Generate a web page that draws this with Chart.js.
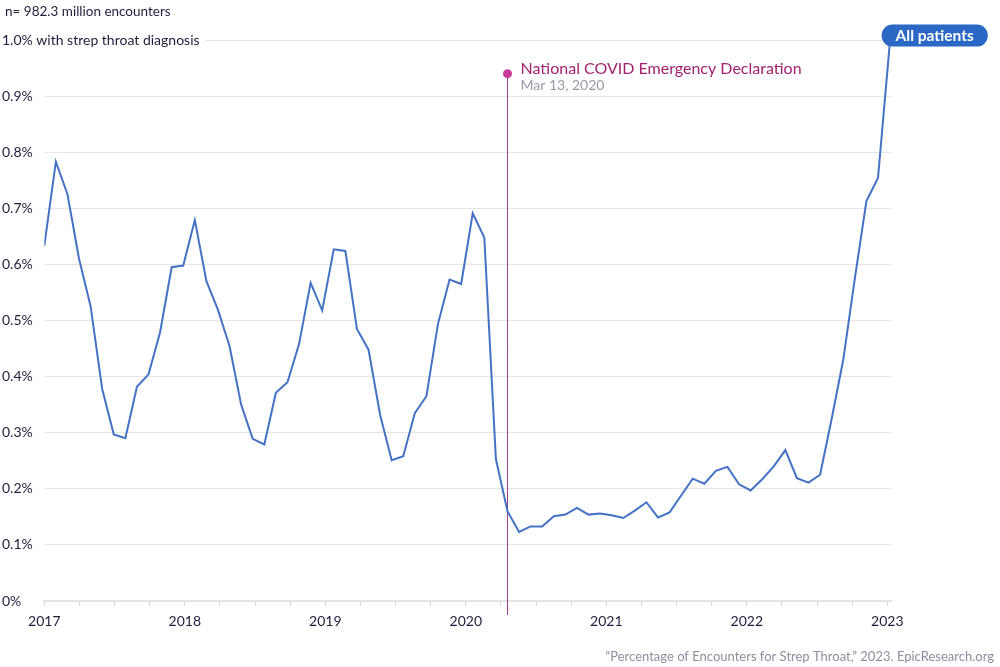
<!DOCTYPE html>
<html>
<head>
<meta charset="utf-8">
<title>Strep throat encounters</title>
<script src="https://cdn.jsdelivr.net/npm/chart.js@4.4.1/dist/chart.umd.min.js"></script>
<style>
    html, body { margin: 0; padding: 0; background: #fff; }
    #strep-chart { display: block; }
</style>
</head>
<body>
<canvas id="strep-chart" width="1000" height="667"></canvas>
<script>
// Strep Throat Chart

// share of encounters with a strep throat diagnosis (%), one value per ~30 day period from Jan 2017
var strepValues = [
    0.633, 0.783, 0.725, 0.610, 0.525, 0.378, 0.297, 0.290, 0.382, 0.404, 0.479, 0.595,
    0.598, 0.679, 0.570, 0.519, 0.454, 0.350, 0.289, 0.279, 0.371, 0.390, 0.458, 0.567,
    0.518, 0.627, 0.624, 0.485, 0.448, 0.332, 0.251, 0.258, 0.335, 0.365, 0.494, 0.573,
    0.565, 0.691, 0.648, 0.253, 0.160, 0.123, 0.133, 0.133, 0.151, 0.154, 0.166, 0.154,
    0.156, 0.153, 0.148, 0.161, 0.176, 0.149, 0.158, 0.188, 0.218, 0.209, 0.232, 0.239,
    0.208, 0.197, 0.217, 0.240, 0.269, 0.219, 0.211, 0.225, 0.325, 0.430, 0.575, 0.713,
    0.754, 0.990
];
var periodStart = 2017;
var periodDays = 30.1;
var yearTicks = [2017, 2018, 2019, 2020, 2021, 2022, 2023];
var yTicks = [0, 0.1, 0.2, 0.3, 0.4, 0.5, 0.6, 0.7, 0.8, 0.9, 1.0];
var topTickLabel = "1.0% with strep throat diagnosis";
var seriesLabel = "All patients";
var headerText = "n= 982.3 million encounters";
var footerText = "\u201CPercentage of Encounters for Strep Throat,\u201D 2023. EpicResearch.org";
var covidIndex = 40;
var covidTitle = "National COVID Emergency Declaration";
var covidDate = "Mar 13, 2020";

var FONT = "Lato, 'Open Sans', sans-serif";
var TEXT = "#1e1e3c";

var points = strepValues.map(function (v, i) {
    return { x: periodStart + i * periodDays / 365.25, y: v };
});

// text, marker and label drawn on top of the chart
var extrasPlugin = {
    id: 'extras',
    beforeDatasetsDraw: function (chart) {
        var ctx = chart.ctx;
        var ys = chart.scales.y;
        var x = chart.scales.x.getPixelForValue(points[covidIndex].x);
        var top = ys.getPixelForValue(0.94);
        ctx.save();
        // top tick label runs over the grid line, so it gets a white box
        var ty = ys.getPixelForValue(yTicks[yTicks.length - 1]);
        ctx.font = "14px " + FONT;
        var tw = ctx.measureText(topTickLabel).width;
        ctx.fillStyle = "#ffffff";
        ctx.fillRect(0, ty - 8, tw + 8, 16);
        ctx.fillStyle = TEXT;
        ctx.textAlign = "left";
        ctx.textBaseline = "middle";
        ctx.fillText(topTickLabel, 2, ty);

        ctx.strokeStyle = "#9b3d8a";
        ctx.lineWidth = 1;
        ctx.beginPath();
        ctx.moveTo(Math.round(x) + 0.5, top);
        ctx.lineTo(Math.round(x) + 0.5, chart.chartArea.bottom + 14);
        ctx.stroke();
        ctx.restore();
    },
    afterDatasetsDraw: function (chart) {
        var ctx = chart.ctx;
        var xs = chart.scales.x, ys = chart.scales.y;
        ctx.save();

        // covid marker
        var cx = Math.round(xs.getPixelForValue(points[covidIndex].x)) + 0.5;
        var cy = ys.getPixelForValue(0.94);
        ctx.fillStyle = "#c8399a";
        ctx.beginPath();
        ctx.arc(cx, cy, 4.5, 0, Math.PI * 2);
        ctx.fill();
        ctx.textAlign = "left";
        ctx.textBaseline = "middle";
        ctx.font = "16px " + FONT;
        ctx.fillStyle = "#a3216e";
        ctx.fillText(covidTitle, cx + 13, cy - 5);
        ctx.font = "14px " + FONT;
        ctx.fillStyle = "#9a98a8";
        ctx.fillText(covidDate, cx + 13, cy + 12);

        // series label at the last point
        var last = points[points.length - 1];
        var lx = xs.getPixelForValue(last.x);
        var ly = ys.getPixelForValue(last.y);
        ctx.font = "bold 15.5px " + FONT;
        var tw = ctx.measureText(seriesLabel).width;
        var w = tw + 28, h = 22;
        var left = lx - 8, pillTop = ly - 10 - h / 2;
        ctx.fillStyle = "#2b67c4";
        ctx.beginPath();
        ctx.roundRect(left, pillTop, w, h, h / 2);
        ctx.fill();
        ctx.fillStyle = "#ffffff";
        ctx.textAlign = "center";
        ctx.fillText(seriesLabel, left + w / 2, pillTop + h / 2 + 0.5);

        // header and source
        ctx.font = "13.5px " + FONT;
        ctx.textAlign = "left";
        ctx.fillStyle = TEXT;
        ctx.fillText(headerText, 5, 12);
        ctx.font = "13px " + FONT;
        ctx.textAlign = "right";
        ctx.fillStyle = "#8f8da0";
        ctx.fillText(footerText, 994, 657);
        ctx.restore();
    }
};

var strepChart = new Chart(document.getElementById("strep-chart"), {
    type: 'line',
    data: {
        datasets: [{
            label: seriesLabel,
            data: points,
            borderColor: "#4472c4",
            borderWidth: 2,
            pointRadius: 0,
            tension: 0,
            fill: false
        }]
    },
    options: {
        responsive: false,
        animation: false,
        layout: {
            padding: { left: 2, right: 109, top: 40, bottom: 36 }
        },
        scales: {
            x: {
                type: 'linear',
                min: 2017,
                max: 2023.026,
                afterBuildTicks: function (scale) {
                    var ticks = [];
                    yearTicks.forEach(function (y, i) {
                        ticks.push({ value: y });
                        if (i < yearTicks.length - 1) {
                            ticks.push({ value: y + 0.25 }, { value: y + 0.5 }, { value: y + 0.75 });
                        }
                    });
                    scale.ticks = ticks;
                },
                afterFit: function (scale) {
                    scale.height = 30;
                },
                grid: {
                    drawOnChartArea: false,
                    drawTicks: true,
                    tickLength: 5,
                    color: "#d6d6d6"
                },
                border: {
                    display: true,
                    color: "#e4e4e4",
                    width: 2
                },
                ticks: {
                    autoSkip: false,
                    maxRotation: 0,
                    padding: 7,
                    color: TEXT,
                    font: { family: FONT, size: 14 },
                    callback: function (value) {
                        return yearTicks.indexOf(value) >= 0 ? String(value) : '';
                    }
                }
            },
            y: {
                min: 0,
                max: 1.0,
                afterBuildTicks: function (scale) {
                    scale.ticks = yTicks.map(function (v) { return { value: v }; });
                },
                afterFit: function (scale) {
                    scale.width = 42.3;
                },
                grid: {
                    drawTicks: false,
                    color: "#e6e6e6",
                    lineWidth: 1
                },
                border: { display: false },
                ticks: {
                    crossAlign: 'far',
                    padding: 0,
                    color: TEXT,
                    font: { family: FONT, size: 14 },
                    callback: function (value) {
                        if (value === 0) return '0%';
                        if (Math.abs(value - 1) < 1e-9) return '';
                        return value.toFixed(1) + '%';
                    }
                }
            }
        },
        plugins: {
            legend: { display: false },
            tooltip: { enabled: false }
        }
    },
    plugins: [extrasPlugin]
});
</script>
</body>
</html>
